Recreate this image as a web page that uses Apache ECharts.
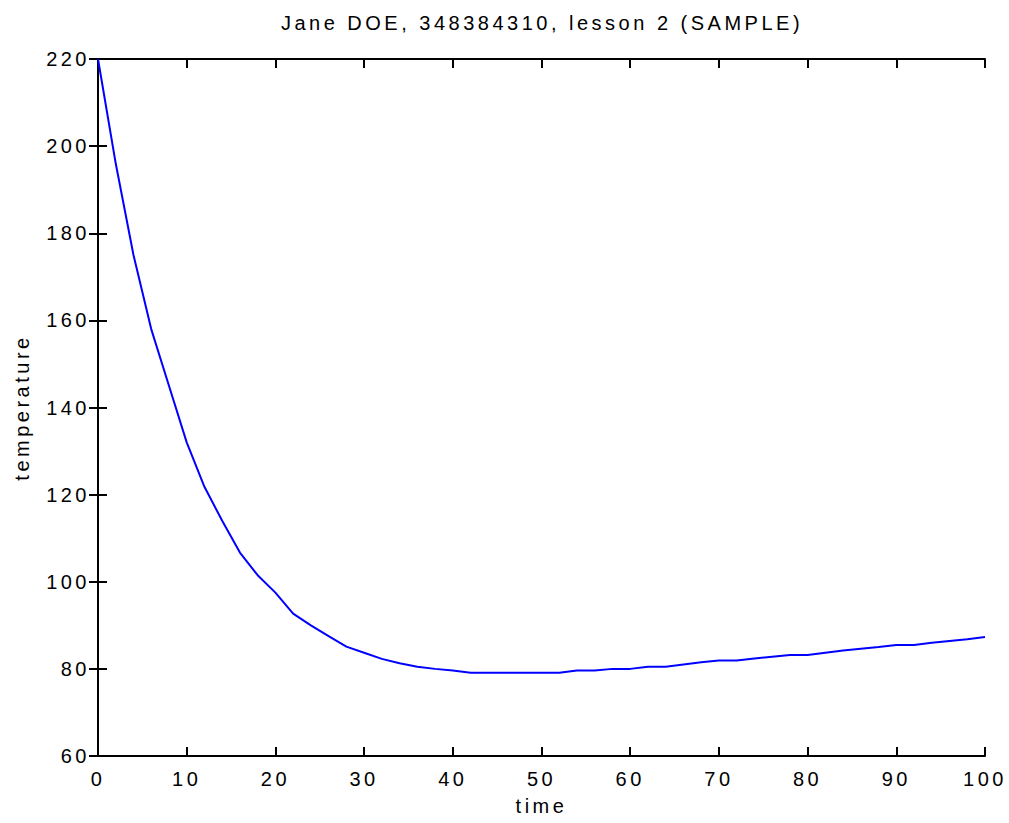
<!DOCTYPE html>
<html>
<head>
<meta charset="utf-8">
<script src="https://cdn.jsdelivr.net/npm/echarts@6/dist/echarts.min.js"></script>
<style>
html, body { margin: 0; padding: 0; background: #fff; }
#chart { width: 1009px; height: 823px; }
#chart text { letter-spacing: 3.5px; }
</style>
</head>
<body>
<div id="chart"></div>
<script>
const titleText = 'Jane DOE, 348384310, lesson 2 (SAMPLE)';
const xName = 'time';
const yName = 'temperature';
const times = [0, 2, 4, 6, 8, 10, 12, 14, 16, 18, 20, 22, 24, 26, 28, 30, 32, 34, 36, 38, 40,
  42, 44, 46, 48, 50, 52, 54, 56, 58, 60, 62, 64, 66, 68, 70, 72, 74, 76, 78, 80,
  82, 84, 86, 88, 90, 92, 94, 96, 98, 100];
const temps = [220, 196, 175, 158, 145, 132, 121.8, 114, 106.7, 101.5, 97.5, 92.7, 90, 87.5, 85.1, 83.7, 82.3, 81.3, 80.5, 80.0, 79.6,
  79.1, 79.1, 79.1, 79.1, 79.1, 79.1, 79.6, 79.6, 80.0, 80.0, 80.5, 80.5, 81.0, 81.5, 81.9, 81.9, 82.4, 82.8, 83.2, 83.2,
  83.7, 84.2, 84.6, 85.0, 85.5, 85.5, 86.0, 86.4, 86.8, 87.3];
const xRange = [0, 100, 10];
const yRange = [60, 220, 20];

const font = 'Liberation Sans, Arial, sans-serif';
const chart = echarts.init(document.getElementById('chart'), null, { renderer: 'svg' });
const lineStyle = { color: '#000', width: 2 };
const tickStyle = { show: true, inside: true, length: 9, lineStyle: { color: '#000', width: 2 } };
const labelStyle = { color: '#000', fontSize: 20, fontFamily: font };

chart.setOption({
  animation: false,
  title: {
    text: titleText, left: 537, top: 8, textAlign: 'center',
    textStyle: { color: '#000', fontSize: 20, fontWeight: 'normal', fontFamily: font }
  },
  grid: { left: 98, right: 24, top: 59, bottom: 67 },
  xAxis: [{
    type: 'value', min: xRange[0], max: xRange[1], interval: xRange[2],
    name: xName, nameLocation: 'middle', nameGap: 40,
    nameTextStyle: labelStyle,
    axisLine: { show: true, lineStyle }, axisTick: tickStyle,
    axisLabel: Object.assign({ margin: 13 }, labelStyle),
    splitLine: { show: false }
  }, {
    type: 'value', position: 'top', min: xRange[0], max: xRange[1], interval: xRange[2],
    axisLine: { show: true, lineStyle }, axisTick: tickStyle,
    axisLabel: { show: false }, splitLine: { show: false }
  }],
  yAxis: [{
    type: 'value', min: yRange[0], max: yRange[1], interval: yRange[2],
    name: yName, nameLocation: 'middle', nameGap: 66,
    nameTextStyle: labelStyle,
    axisLine: { show: true, lineStyle }, axisTick: tickStyle,
    axisLabel: Object.assign({ margin: 8 }, labelStyle),
    splitLine: { show: false }
  }, {
    type: 'value', position: 'right', min: yRange[0], max: yRange[1], interval: yRange[2],
    axisLine: { show: true, lineStyle }, axisTick: tickStyle,
    axisLabel: { show: false }, splitLine: { show: false }
  }],
  series: [{
    type: 'line',
    data: times.map((t, i) => [t, temps[i]]),
    showSymbol: false,
    lineStyle: { color: '#0000ff', width: 2 },
    itemStyle: { color: '#0000ff' }
  }]
});
</script>
</body>
</html>
